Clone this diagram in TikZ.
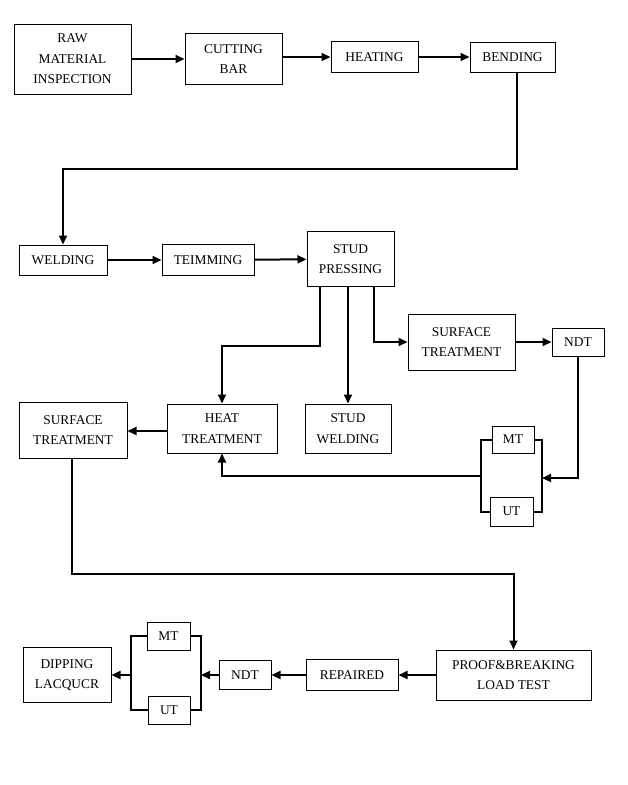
\documentclass[tikz,border=0pt]{standalone}
\usepackage{fontspec}
\setmainfont{Liberation Serif}
\usepackage{tikz}
\usetikzlibrary{arrows.meta}

\begin{document}
\begin{tikzpicture}[x=1pt,y=-1pt,
    box/.style={draw,line width=1pt,align=center,inner sep=0pt,
      font=\fontsize{13.4}{20.5}\selectfont},
    link/.style={line width=2pt},
    flow/.style={line width=2pt,-{Triangle[length=9pt,width=8pt]}}]
    \useasboundingbox (0,0) rectangle (627,785);
    % first row
    \node[box,minimum width=117pt,minimum height=70pt] (raw) at (72.5,59) {RAW\\MATERIAL\\INSPECTION};
    \node[box,minimum width=97pt,minimum height=51pt] (cut) at (233.5,59) {CUTTING\\BAR};
    \node[box,minimum width=87pt,minimum height=31pt] (heat) at (374.5,57) {HEATING};
    \node[box,minimum width=85pt,minimum height=30pt] (bend) at (512.5,57) {BENDING};
    % second row
    \node[box,minimum width=88pt,minimum height=30pt] (weld) at (63,260) {WELDING};
    \node[box,minimum width=92pt,minimum height=31pt] (trim) at (208,260) {TEIMMING};
    \node[box,minimum width=87pt,minimum height=55pt] (press) at (350.5,259) {STUD\\PRESSING};
    % third row
    \node[box,minimum width=107pt,minimum height=56pt] (surfR) at (461.5,342) {SURFACE\\TREATMENT};
    \node[box,minimum width=52pt,minimum height=28pt] (ndtR) at (578,342) {NDT};
    \node[box,minimum width=110pt,minimum height=49pt] (heatT) at (222,428.5) {HEAT\\TREATMENT};
    \node[box,minimum width=86pt,minimum height=49pt] (studW) at (348,428.5) {STUD\\WELDING};
    \node[box,minimum width=108pt,minimum height=56pt] (surfL) at (73,430) {SURFACE\\TREATMENT};
    \node[box,minimum width=42pt,minimum height=27pt] (mtR) at (513,439.5) {MT};
    \node[box,minimum width=43pt,minimum height=29pt] (utR) at (511.5,511.5) {UT};
    % last row
    \node[box,minimum width=155pt,minimum height=50pt] (proof) at (513.5,675) {PROOF\&BREAKING\\LOAD TEST};
    \node[box,minimum width=92pt,minimum height=31pt] (rep) at (352,675) {REPAIRED};
    \node[box,minimum width=52pt,minimum height=29pt] (ndtB) at (245,675) {NDT};
    \node[box,minimum width=43pt,minimum height=28pt] (mtB) at (168.5,636) {MT};
    \node[box,minimum width=42pt,minimum height=28pt] (utB) at (169,710) {UT};
    \node[box,minimum width=88pt,minimum height=55pt] (dip) at (67,675) {DIPPING\\LACQUCR};
    % turning points
    \coordinate (bendx) at (517,169);
    \coordinate (pressL) at (320,346);
    \coordinate (pressR) at (374,342);
    \coordinate (rbR) at (542,478);
    \coordinate (lbR) at (481,476);
    \coordinate (low) at (72,574);
    \coordinate (rbB) at (201,675);
    \coordinate (lbB) at (131,675);
    % connectors
    \draw[flow] (raw) -- (cut);
    \draw[flow] (cut.east |- heat) -- (heat);
    \draw[flow] (heat) -- (bend);
    \draw[flow] (bend.south -| bendx) -- (bendx) -| (weld.north);
    \draw[flow] (weld) -- (trim);
    \draw[flow] (trim) -- (press);
    \draw[flow] (press.south -| pressL) -- (pressL) -| (heatT.north);
    \draw[flow] (press.south -| studW) -- (studW.north);
    \draw[flow] (press.south -| pressR) |- (surfR.west);
    \draw[flow] (surfR) -- (ndtR);
    \draw[flow] (ndtR.south) |- (rbR);
    \draw[link] (mtR.east) -| (rbR) |- (utR.east);
    \draw[link] (mtR.west) -| (lbR) |- (utR.west);
    \draw[flow] (lbR) -| (heatT.south);
    \draw[flow] (heatT.west |- 0,431) -- (surfL.east |- 0,431);
    \draw[flow] (surfL.south -| low) -- (low) -| (proof.north);
    \draw[flow] (proof) -- (rep);
    \draw[flow] (rep) -- (ndtB);
    \draw[flow] (ndtB.west) -- (rbB);
    \draw[link] (mtB.east) -| (rbB) |- (utB.east);
    \draw[link] (mtB.west) -| (lbB) |- (utB.west);
    \draw[flow] (lbB) -- (dip.east);
\end{tikzpicture}
\end{document}
